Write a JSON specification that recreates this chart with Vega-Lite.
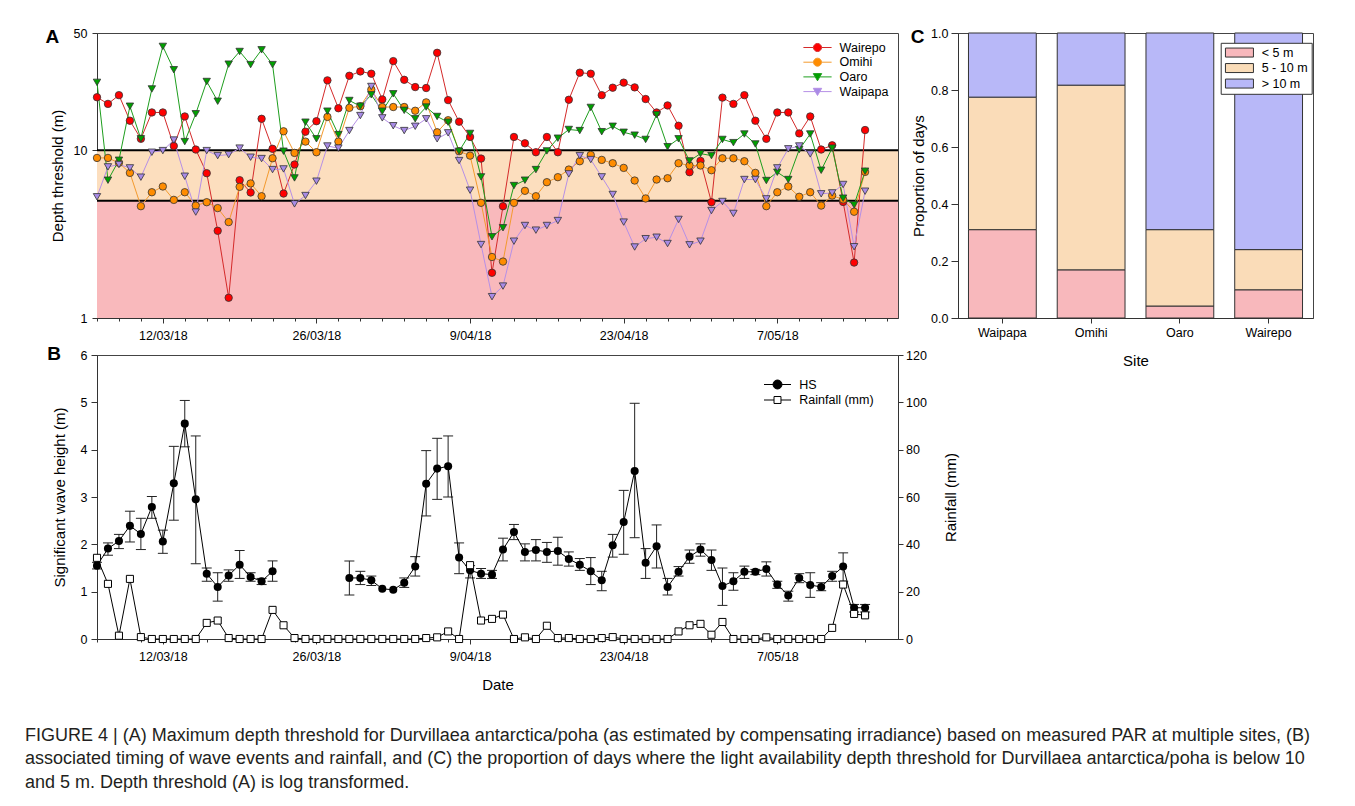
{
  "$schema": "https://vega.github.io/schema/vega-lite/v6.json",
  "background": "white",
  "padding": {"left": 25, "top": 26, "right": 5, "bottom": 5},
  "config": {
    "font": "Liberation Sans",
    "view": {"stroke": "#444", "strokeWidth": 1},
    "axis": {"labelFont": "Liberation Sans", "labelFontSize": 12.5, "labelColor": "#000", "titleFont": "Liberation Sans", "titleFontSize": 15, "titleFontWeight": "normal", "titleColor": "#000", "domainColor": "#333", "tickColor": "#333", "grid": false, "labelOverlap": false, "labelFlush": false},
    "legend": {"labelFont": "Liberation Sans", "labelFontSize": 12.5, "labelColor": "#000", "padding": 0},
    "title": {"font": "Liberation Sans", "color": "#000"}
  },
  "datasets": {
    "days": [
      {"date": "2018-03-06", "Wairepo": 20.7, "Omihi": 9.0, "Oaro": 25.4, "Waipapa": 5.28, "hs": 1.55, "hs_lo": 1.48, "hs_hi": 1.62, "rain": 34.3},
      {"date": "2018-03-07", "Wairepo": 18.9, "Omihi": 9.0, "Oaro": 6.63, "Waipapa": 7.96, "hs": 1.91, "hs_lo": 1.77, "hs_hi": 2.03, "rain": 23.3},
      {"date": "2018-03-08", "Wairepo": 21.3, "Omihi": 8.41, "Oaro": 8.72, "Waipapa": 8.22, "hs": 2.07, "hs_lo": 1.91, "hs_hi": 2.21, "rain": 1.4},
      {"date": "2018-03-09", "Wairepo": 15.0, "Omihi": 7.33, "Oaro": 18.3, "Waipapa": 7.85, "hs": 2.39, "hs_lo": 2.05, "hs_hi": 2.70, "rain": 25.4},
      {"date": "2018-03-10", "Wairepo": 11.7, "Omihi": 4.64, "Oaro": 11.7, "Waipapa": 6.91, "hs": 2.22, "hs_lo": 1.89, "hs_hi": 2.55, "rain": 0.8},
      {"date": "2018-03-11", "Wairepo": 16.8, "Omihi": 5.62, "Oaro": 23.2, "Waipapa": 9.73, "hs": 2.79, "hs_lo": 2.55, "hs_hi": 3.01, "rain": 0},
      {"date": "2018-03-12", "Wairepo": 16.8, "Omihi": 6.08, "Oaro": 41.6, "Waipapa": 9.95, "hs": 2.06, "hs_lo": 1.81, "hs_hi": 2.30, "rain": 0},
      {"date": "2018-03-13", "Wairepo": 10.6, "Omihi": 5.06, "Oaro": 30.2, "Waipapa": 11.5, "hs": 3.29, "hs_lo": 2.51, "hs_hi": 4.07, "rain": 0},
      {"date": "2018-03-14", "Wairepo": 15.9, "Omihi": 5.62, "Oaro": 11.26, "Waipapa": 7.0, "hs": 4.55, "hs_lo": 4.06, "hs_hi": 5.04, "rain": 0},
      {"date": "2018-03-15", "Wairepo": 10.1, "Omihi": 4.68, "Oaro": 16.5, "Waipapa": 4.28, "hs": 2.95, "hs_lo": 1.59, "hs_hi": 4.29, "rain": 0},
      {"date": "2018-03-16", "Wairepo": 7.3, "Omihi": 4.90, "Oaro": 25.7, "Waipapa": 9.95, "hs": 1.38, "hs_lo": 1.22, "hs_hi": 1.50, "rain": 6.8},
      {"date": "2018-03-17", "Wairepo": 3.31, "Omihi": 4.52, "Oaro": 19.6, "Waipapa": 9.29, "hs": 1.10, "hs_lo": 0.80, "hs_hi": 1.40, "rain": 7.8},
      {"date": "2018-03-18", "Wairepo": 1.32, "Omihi": 3.73, "Oaro": 32.6, "Waipapa": 9.42, "hs": 1.34, "hs_lo": 1.22, "hs_hi": 1.46, "rain": 0.4},
      {"date": "2018-03-19", "Wairepo": 6.63, "Omihi": 6.05, "Oaro": 38.8, "Waipapa": 10.3, "hs": 1.57, "hs_lo": 1.28, "hs_hi": 1.87, "rain": 0},
      {"date": "2018-03-20", "Wairepo": 5.6, "Omihi": 6.34, "Oaro": 32.4, "Waipapa": 9.09, "hs": 1.31, "hs_lo": 1.22, "hs_hi": 1.40, "rain": 0},
      {"date": "2018-03-21", "Wairepo": 15.4, "Omihi": 5.32, "Oaro": 39.7, "Waipapa": 8.92, "hs": 1.22, "hs_lo": 1.15, "hs_hi": 1.28, "rain": 0},
      {"date": "2018-03-22", "Wairepo": 10.2, "Omihi": 8.96, "Oaro": 32.4, "Waipapa": 7.67, "hs": 1.43, "hs_lo": 1.22, "hs_hi": 1.65, "rain": 12.3},
      {"date": "2018-03-23", "Wairepo": 5.52, "Omihi": 12.97, "Oaro": 9.87, "Waipapa": 7.74, "hs": null, "hs_lo": null, "hs_hi": null, "rain": 5.8},
      {"date": "2018-03-24", "Wairepo": 8.22, "Omihi": 9.64, "Oaro": 6.84, "Waipapa": 4.79, "hs": null, "hs_lo": null, "hs_hi": null, "rain": 0.4},
      {"date": "2018-03-25", "Wairepo": 12.9, "Omihi": 11.26, "Oaro": 14.7, "Waipapa": 5.37, "hs": null, "hs_lo": null, "hs_hi": null, "rain": 0},
      {"date": "2018-03-26", "Wairepo": 14.9, "Omihi": 9.73, "Oaro": 11.7, "Waipapa": 6.54, "hs": null, "hs_lo": null, "hs_hi": null, "rain": 0},
      {"date": "2018-03-27", "Wairepo": 26.1, "Omihi": 15.8, "Oaro": 17.1, "Waipapa": 10.6, "hs": null, "hs_lo": null, "hs_hi": null, "rain": 0},
      {"date": "2018-03-28", "Wairepo": 17.8, "Omihi": 11.26, "Oaro": 12.4, "Waipapa": 10.3, "hs": null, "hs_lo": null, "hs_hi": null, "rain": 0},
      {"date": "2018-03-29", "Wairepo": 27.8, "Omihi": 17.9, "Oaro": 19.8, "Waipapa": 13.1, "hs": 1.29, "hs_lo": 0.93, "hs_hi": 1.65, "rain": 0},
      {"date": "2018-03-30", "Wairepo": 29.5, "Omihi": 18.3, "Oaro": 18.3, "Waipapa": 16.1, "hs": 1.29, "hs_lo": 1.15, "hs_hi": 1.43, "rain": 0},
      {"date": "2018-03-31", "Wairepo": 28.6, "Omihi": 23.0, "Oaro": 21.4, "Waipapa": 24.0, "hs": 1.24, "hs_lo": 1.13, "hs_hi": 1.33, "rain": 0},
      {"date": "2018-04-01", "Wairepo": 20.1, "Omihi": 18.1, "Oaro": 17.1, "Waipapa": 15.6, "hs": 1.06, "hs_lo": null, "hs_hi": null, "rain": 0},
      {"date": "2018-04-02", "Wairepo": 34.0, "Omihi": 18.1, "Oaro": 21.7, "Waipapa": 14.0, "hs": 1.04, "hs_lo": null, "hs_hi": null, "rain": 0},
      {"date": "2018-04-03", "Wairepo": 26.3, "Omihi": 18.1, "Oaro": 17.3, "Waipapa": 13.1, "hs": 1.19, "hs_lo": 1.09, "hs_hi": 1.29, "rain": 0},
      {"date": "2018-04-04", "Wairepo": 23.8, "Omihi": 17.2, "Oaro": 15.4, "Waipapa": 13.9, "hs": 1.53, "hs_lo": 1.33, "hs_hi": 1.74, "rain": 0},
      {"date": "2018-04-05", "Wairepo": 23.5, "Omihi": 19.3, "Oaro": 18.1, "Waipapa": 15.4, "hs": 3.28, "hs_lo": 2.60, "hs_hi": 3.98, "rain": 0.4},
      {"date": "2018-04-06", "Wairepo": 38.1, "Omihi": 12.8, "Oaro": 15.9, "Waipapa": 11.7, "hs": 3.60, "hs_lo": 2.95, "hs_hi": 4.24, "rain": 0.7},
      {"date": "2018-04-07", "Wairepo": 19.9, "Omihi": 15.1, "Oaro": 14.7, "Waipapa": 12.7, "hs": 3.65, "hs_lo": 3.00, "hs_hi": 4.29, "rain": 3.2},
      {"date": "2018-04-08", "Wairepo": 14.8, "Omihi": 9.87, "Oaro": 9.87, "Waipapa": 8.68, "hs": 1.72, "hs_lo": 1.38, "hs_hi": 2.03, "rain": 0},
      {"date": "2018-04-09", "Wairepo": 12.0, "Omihi": 9.29, "Oaro": 12.6, "Waipapa": 5.78, "hs": 1.45, "hs_lo": 1.29, "hs_hi": 1.55, "rain": 31.2},
      {"date": "2018-04-10", "Wairepo": 8.92, "Omihi": 4.86, "Oaro": 6.94, "Waipapa": 2.74, "hs": 1.38, "hs_lo": 1.28, "hs_hi": 1.49, "rain": 7.8},
      {"date": "2018-04-11", "Wairepo": 1.86, "Omihi": 2.31, "Oaro": 3.05, "Waipapa": 1.34, "hs": 1.36, "hs_lo": 1.28, "hs_hi": 1.45, "rain": 8.5},
      {"date": "2018-04-12", "Wairepo": 4.64, "Omihi": 2.17, "Oaro": 3.45, "Waipapa": 1.55, "hs": 1.89, "hs_lo": 1.65, "hs_hi": 2.13, "rain": 10.3},
      {"date": "2018-04-13", "Wairepo": 12.0, "Omihi": 4.86, "Oaro": 6.16, "Waipapa": 2.87, "hs": 2.26, "hs_lo": 2.10, "hs_hi": 2.42, "rain": 0},
      {"date": "2018-04-14", "Wairepo": 11.0, "Omihi": 5.73, "Oaro": 6.63, "Waipapa": 3.56, "hs": 1.84, "hs_lo": 1.65, "hs_hi": 2.01, "rain": 0.7},
      {"date": "2018-04-15", "Wairepo": 9.73, "Omihi": 5.32, "Oaro": 7.67, "Waipapa": 3.34, "hs": 1.88, "hs_lo": 1.65, "hs_hi": 2.10, "rain": 0},
      {"date": "2018-04-16", "Wairepo": 12.0, "Omihi": 6.45, "Oaro": 9.91, "Waipapa": 3.56, "hs": 1.84, "hs_lo": 1.62, "hs_hi": 2.04, "rain": 5.6},
      {"date": "2018-04-17", "Wairepo": 9.73, "Omihi": 6.91, "Oaro": 11.8, "Waipapa": 3.81, "hs": 1.86, "hs_lo": 1.56, "hs_hi": 2.15, "rain": 0.4},
      {"date": "2018-04-18", "Wairepo": 20.0, "Omihi": 7.67, "Oaro": 13.3, "Waipapa": 7.23, "hs": 1.69, "hs_lo": 1.54, "hs_hi": 1.84, "rain": 0.4},
      {"date": "2018-04-19", "Wairepo": 29.0, "Omihi": 8.60, "Oaro": 13.1, "Waipapa": 9.29, "hs": 1.57, "hs_lo": 1.45, "hs_hi": 1.70, "rain": 0},
      {"date": "2018-04-20", "Wairepo": 28.6, "Omihi": 9.38, "Oaro": 18.0, "Waipapa": 8.80, "hs": 1.43, "hs_lo": 1.15, "hs_hi": 1.72, "rain": 0},
      {"date": "2018-04-21", "Wairepo": 21.3, "Omihi": 8.76, "Oaro": 12.9, "Waipapa": 6.94, "hs": 1.24, "hs_lo": 1.02, "hs_hi": 1.43, "rain": 0.4},
      {"date": "2018-04-22", "Wairepo": 23.6, "Omihi": 8.37, "Oaro": 13.9, "Waipapa": 5.45, "hs": 1.98, "hs_lo": 1.73, "hs_hi": 2.21, "rain": 0.8},
      {"date": "2018-04-23", "Wairepo": 25.3, "Omihi": 7.85, "Oaro": 12.8, "Waipapa": 3.73, "hs": 2.47, "hs_lo": 1.79, "hs_hi": 3.14, "rain": 0},
      {"date": "2018-04-24", "Wairepo": 23.7, "Omihi": 6.60, "Oaro": 12.3, "Waipapa": 2.65, "hs": 3.55, "hs_lo": 2.14, "hs_hi": 4.98, "rain": 0},
      {"date": "2018-04-25", "Wairepo": 20.2, "Omihi": 5.16, "Oaro": 11.6, "Waipapa": 2.97, "hs": 1.61, "hs_lo": 1.28, "hs_hi": 1.91, "rain": 0},
      {"date": "2018-04-26", "Wairepo": 16.8, "Omihi": 6.69, "Oaro": 16.3, "Waipapa": 3.03, "hs": 1.96, "hs_lo": 1.50, "hs_hi": 2.41, "rain": 0},
      {"date": "2018-04-27", "Wairepo": 18.5, "Omihi": 6.81, "Oaro": 10.5, "Waipapa": 2.78, "hs": 1.10, "hs_lo": 0.93, "hs_hi": 1.28, "rain": 0},
      {"date": "2018-04-28", "Wairepo": 14.0, "Omihi": 8.37, "Oaro": 11.7, "Waipapa": 3.87, "hs": 1.42, "hs_lo": 1.33, "hs_hi": 1.53, "rain": 3.2},
      {"date": "2018-04-29", "Wairepo": 7.40, "Omihi": 8.11, "Oaro": 8.64, "Waipapa": 2.73, "hs": 1.74, "hs_lo": 1.60, "hs_hi": 1.88, "rain": 5.8},
      {"date": "2018-04-30", "Wairepo": 8.64, "Omihi": 8.11, "Oaro": 9.55, "Waipapa": 2.87, "hs": 1.89, "hs_lo": 1.75, "hs_hi": 2.01, "rain": 6.4},
      {"date": "2018-05-01", "Wairepo": 4.90, "Omihi": 7.60, "Oaro": 9.29, "Waipapa": 4.37, "hs": 1.67, "hs_lo": 1.45, "hs_hi": 1.88, "rain": 1.8},
      {"date": "2018-05-02", "Wairepo": 20.6, "Omihi": 8.96, "Oaro": 11.6, "Waipapa": 4.95, "hs": 1.12, "hs_lo": 0.71, "hs_hi": 1.50, "rain": 7.2},
      {"date": "2018-05-03", "Wairepo": 18.9, "Omihi": 8.96, "Oaro": 11.1, "Waipapa": 4.20, "hs": 1.22, "hs_lo": 1.03, "hs_hi": 1.40, "rain": 0},
      {"date": "2018-05-04", "Wairepo": 21.3, "Omihi": 8.60, "Oaro": 12.5, "Waipapa": 6.69, "hs": 1.42, "hs_lo": 1.28, "hs_hi": 1.54, "rain": 0},
      {"date": "2018-05-05", "Wairepo": 15.0, "Omihi": 7.33, "Oaro": 10.9, "Waipapa": 6.69, "hs": 1.42, "hs_lo": 1.36, "hs_hi": 1.47, "rain": 0},
      {"date": "2018-05-06", "Wairepo": 11.7, "Omihi": 4.64, "Oaro": 6.60, "Waipapa": 5.13, "hs": 1.48, "hs_lo": 1.33, "hs_hi": 1.63, "rain": 0.7},
      {"date": "2018-05-07", "Wairepo": 16.8, "Omihi": 5.62, "Oaro": 7.40, "Waipapa": 7.85, "hs": 1.15, "hs_lo": 1.07, "hs_hi": 1.22, "rain": 0},
      {"date": "2018-05-08", "Wairepo": 16.8, "Omihi": 6.08, "Oaro": 6.69, "Waipapa": 10.2, "hs": 0.92, "hs_lo": 0.80, "hs_hi": 1.01, "rain": 0},
      {"date": "2018-05-09", "Wairepo": 12.6, "Omihi": 5.28, "Oaro": 10.1, "Waipapa": 10.6, "hs": 1.29, "hs_lo": 1.19, "hs_hi": 1.38, "rain": 0},
      {"date": "2018-05-10", "Wairepo": 15.9, "Omihi": 5.62, "Oaro": 12.5, "Waipapa": 9.51, "hs": 1.14, "hs_lo": 0.88, "hs_hi": 1.40, "rain": 0},
      {"date": "2018-05-11", "Wairepo": 10.1, "Omihi": 4.68, "Oaro": 7.60, "Waipapa": 5.50, "hs": 1.10, "hs_lo": 1.02, "hs_hi": 1.19, "rain": 0},
      {"date": "2018-05-12", "Wairepo": 10.7, "Omihi": 5.37, "Oaro": 10.3, "Waipapa": 5.57, "hs": 1.33, "hs_lo": 1.22, "hs_hi": 1.43, "rain": 4.7},
      {"date": "2018-05-13", "Wairepo": 4.92, "Omihi": 5.09, "Oaro": 5.18, "Waipapa": 6.25, "hs": 1.53, "hs_lo": 1.22, "hs_hi": 1.82, "rain": 23.0},
      {"date": "2018-05-14", "Wairepo": 2.14, "Omihi": 4.30, "Oaro": 4.73, "Waipapa": 2.66, "hs": 0.66, "hs_lo": 0.57, "hs_hi": 0.73, "rain": 10.6},
      {"date": "2018-05-15", "Wairepo": 13.2, "Omihi": 7.43, "Oaro": 7.50, "Waipapa": 5.70, "hs": 0.66, "hs_lo": 0.57, "hs_hi": 0.73, "rain": 10.0}
    ],
    "props": [
      {"site": "Waipapa", "zone": "< 5 m", "rank": 1, "prop": 0.310},
      {"site": "Waipapa", "zone": "5 - 10 m", "rank": 2, "prop": 0.465},
      {"site": "Waipapa", "zone": "> 10 m", "rank": 3, "prop": 0.225},
      {"site": "Omihi", "zone": "< 5 m", "rank": 1, "prop": 0.169},
      {"site": "Omihi", "zone": "5 - 10 m", "rank": 2, "prop": 0.648},
      {"site": "Omihi", "zone": "> 10 m", "rank": 3, "prop": 0.183},
      {"site": "Oaro", "zone": "< 5 m", "rank": 1, "prop": 0.042},
      {"site": "Oaro", "zone": "5 - 10 m", "rank": 2, "prop": 0.268},
      {"site": "Oaro", "zone": "> 10 m", "rank": 3, "prop": 0.690},
      {"site": "Wairepo", "zone": "< 5 m", "rank": 1, "prop": 0.099},
      {"site": "Wairepo", "zone": "5 - 10 m", "rank": 2, "prop": 0.141},
      {"site": "Wairepo", "zone": "> 10 m", "rank": 3, "prop": 0.760}
    ]
  },
  "title": {
    "text": [
      "FIGURE 4 | (A) Maximum depth threshold for Durvillaea antarctica/poha (as estimated by compensating irradiance) based on measured PAR at multiple sites, (B)",
      "associated timing of wave events and rainfall, and (C) the proportion of days where the light availability depth threshold for Durvillaea antarctica/poha is below 10",
      "and 5 m. Depth threshold (A) is log transformed."
    ],
    "orient": "bottom", "anchor": "start", "frame": "bounds", "align": "left",
    "fontSize": 18, "fontWeight": "normal", "font": "Liberation Sans", "color": "#231F20",
    "lineHeight": 23.3, "offset": 34.5, "dx": -20
  },
  "concat": [
    {
      "width": 801, "height": 285,
      "title": {"text": "A", "orient": "top", "anchor": "start", "frame": "group", "offset": 0, "dx": -51.5, "dy": 34.6, "baseline": "alphabetic", "fontSize": 19, "fontWeight": "bold", "color": "#000"},
      "layer": [
        {
          "data": {"values": [{"low": 1, "high": 5}]},
          "mark": {"type": "rect", "fill": "#F9B9BC"},
          "encoding": {
            "y": {"field": "low", "type": "quantitative", "scale": {"type": "log", "domain": [1, 50]}},
            "y2": {"field": "high"}
          }
        },
        {
          "data": {"values": [{"low": 5, "high": 10}]},
          "mark": {"type": "rect", "fill": "#FCDEBE"},
          "encoding": {
            "y": {"field": "low", "type": "quantitative", "scale": {"type": "log", "domain": [1, 50]}},
            "y2": {"field": "high"}
          }
        },
        {
          "data": {"values": [{"limit": 5}, {"limit": 10}]},
          "mark": {"type": "rule", "color": "#000", "strokeWidth": 2},
          "encoding": {
            "y": {"field": "limit", "type": "quantitative", "scale": {"type": "log", "domain": [1, 50]}}
          }
        },
        {
          "data": {"name": "days"},
          "transform": [{"fold": ["Wairepo", "Omihi", "Oaro", "Waipapa"], "as": ["site", "depth"]}],
          "mark": {"type": "line", "strokeWidth": 1},
          "encoding": {
            "x": {"field": "date", "type": "temporal",
              "scale": {"type": "utc", "domain": [{"year": 2018, "month": 3, "date": 6, "utc": true}, {"year": 2018, "month": 5, "date": 18, "utc": true}]},
              "axis": {"orient": "bottom", "title": null, "tickSize": 5, "labelPadding": 6, "labelOverlap": false, "labelFlush": false,
                "labelExpr": "utcFormat(datum.value, '%-d/%m/%y')",
                "values": [{"year": 2018, "month": 3, "date": 12, "utc": true}, {"year": 2018, "month": 3, "date": 26, "utc": true}, {"year": 2018, "month": 4, "date": 9, "utc": true}, {"year": 2018, "month": 4, "date": 23, "utc": true}, {"year": 2018, "month": 5, "date": 7, "utc": true}]}},
            "y": {"field": "depth", "type": "quantitative", "scale": {"type": "log", "domain": [1, 50]},
              "axis": {"values": [1, 10, 50], "format": "d", "title": "Depth threshold (m)", "tickSize": 5, "labelPadding": 5, "titleX": -40, "titleBaseline": "middle"}},
            "color": {"field": "site", "type": "nominal",
              "scale": {"domain": ["Wairepo", "Omihi", "Oaro", "Waipapa"], "range": ["#D42A2A", "#F39A2E", "#1E9E1E", "#B690E6"]},
              "legend": {"title": null, "orient": "none", "legendX": 714, "legendY": 8, "direction": "vertical", "symbolSize": 144, "labelOffset": 15.6, "rowPadding": 1.7, "labelFontSize": 12.5,
                "encode": {"symbols": {"update": {
                  "shape": {"signal": "(datum.value === 'Wairepo' || datum.value === 'Omihi') ? 'M-2.35,0H-0.67M0.67,0H2.35M0.67,0A0.67,0.67,0,1,1,-0.67,0A0.67,0.67,0,1,1,0.67,0Z' : 'M-2.35,0H-0.38M0.38,0H2.35M-0.7,-0.55L0.7,-0.55L0,0.65Z'"},
                  "fill": {"signal": "datum.value === 'Wairepo' ? '#FF0000' : datum.value === 'Omihi' ? '#FF8C00' : datum.value === 'Oaro' ? '#00A000' : '#A88BE6'"},
                  "stroke": {"signal": "datum.value === 'Wairepo' ? '#D42A2A' : datum.value === 'Omihi' ? '#F39A2E' : datum.value === 'Oaro' ? '#1E9E1E' : '#B690E6'"},
                  "strokeWidth": {"value": 1},
                  "opacity": {"value": 1}
                }}}}
            }
          }
        },
        {
          "data": {"name": "days"},
          "transform": [{"fold": ["Wairepo", "Omihi", "Oaro", "Waipapa"], "as": ["station", "depth"]}],
          "mark": {"type": "point", "filled": true, "stroke": "#333", "strokeWidth": 0.8, "size": 55, "opacity": 1},
          "encoding": {
            "x": {"field": "date", "type": "temporal",
              "scale": {"type": "utc", "domain": [{"year": 2018, "month": 3, "date": 6, "utc": true}, {"year": 2018, "month": 5, "date": 18, "utc": true}]},
              "axis": {"orient": "bottom", "title": null, "labels": false, "domain": false, "tickSize": 3,
                "values": [
                  {"year": 2018, "month": 3, "date": 6, "utc": true}, {"year": 2018, "month": 3, "date": 8, "utc": true}, {"year": 2018, "month": 3, "date": 10, "utc": true}, {"year": 2018, "month": 3, "date": 14, "utc": true}, {"year": 2018, "month": 3, "date": 16, "utc": true}, {"year": 2018, "month": 3, "date": 18, "utc": true}, {"year": 2018, "month": 3, "date": 20, "utc": true}, {"year": 2018, "month": 3, "date": 22, "utc": true}, {"year": 2018, "month": 3, "date": 24, "utc": true}, {"year": 2018, "month": 3, "date": 28, "utc": true}, {"year": 2018, "month": 3, "date": 30, "utc": true},
                  {"year": 2018, "month": 4, "date": 1, "utc": true}, {"year": 2018, "month": 4, "date": 3, "utc": true}, {"year": 2018, "month": 4, "date": 5, "utc": true}, {"year": 2018, "month": 4, "date": 7, "utc": true}, {"year": 2018, "month": 4, "date": 11, "utc": true}, {"year": 2018, "month": 4, "date": 13, "utc": true}, {"year": 2018, "month": 4, "date": 15, "utc": true}, {"year": 2018, "month": 4, "date": 17, "utc": true}, {"year": 2018, "month": 4, "date": 19, "utc": true}, {"year": 2018, "month": 4, "date": 21, "utc": true}, {"year": 2018, "month": 4, "date": 25, "utc": true}, {"year": 2018, "month": 4, "date": 27, "utc": true}, {"year": 2018, "month": 4, "date": 29, "utc": true},
                  {"year": 2018, "month": 5, "date": 1, "utc": true}, {"year": 2018, "month": 5, "date": 3, "utc": true}, {"year": 2018, "month": 5, "date": 5, "utc": true}, {"year": 2018, "month": 5, "date": 9, "utc": true}, {"year": 2018, "month": 5, "date": 11, "utc": true}, {"year": 2018, "month": 5, "date": 13, "utc": true}, {"year": 2018, "month": 5, "date": 15, "utc": true}, {"year": 2018, "month": 5, "date": 17, "utc": true}
                ]}},
            "y": {"field": "depth", "type": "quantitative", "scale": {"type": "log", "domain": [1, 50]}},
            "fill": {"field": "station", "type": "nominal", "scale": {"domain": ["Waipapa", "Oaro", "Omihi", "Wairepo"], "range": ["#A88BE6", "#00A000", "#FF8C00", "#FF0000"]}, "legend": null},
            "shape": {"field": "station", "type": "nominal", "scale": {"domain": ["Waipapa", "Oaro", "Omihi", "Wairepo"], "range": ["triangle-down", "triangle-down", "circle", "circle"]}, "legend": null}
          }
        }
      ],
      "resolve": {"axis": {"x": "independent"}}
    },
    {
      "width": 355, "height": 285,
      "title": {"text": "C", "orient": "top", "anchor": "start", "frame": "group", "offset": 0, "dx": -47.3, "dy": 34.6, "baseline": "alphabetic", "fontSize": 19, "fontWeight": "bold", "color": "#000"},
      "data": {"name": "props"},
      "mark": {"type": "bar", "stroke": "#333", "strokeWidth": 1},
      "encoding": {
        "x": {"field": "site", "type": "nominal", "sort": ["Waipapa", "Omihi", "Oaro", "Wairepo"],
          "scale": {"paddingInner": 0.236, "paddingOuter": 0.118},
          "axis": {"title": "Site", "labelAngle": 0, "tickSize": 5, "labelPadding": 3, "titleY": 42, "titleBaseline": "middle"}},
        "y": {"field": "prop", "type": "quantitative", "stack": "zero", "scale": {"domain": [0, 1]},
          "axis": {"values": [0, 0.2, 0.4, 0.6, 0.8, 1.0], "format": ".1f", "title": "Proportion of days", "tickSize": 7, "labelPadding": 3, "titleX": -39.3, "titleBaseline": "middle"}},
        "color": {"field": "zone", "type": "nominal",
          "scale": {"domain": ["< 5 m", "5 - 10 m", "> 10 m"], "range": ["#F8B8BC", "#FADCB8", "#B8B8F8"]},
          "legend": {"title": null, "orient": "none", "legendX": 262.7, "legendY": 9.8, "direction": "vertical", "padding": 3.5, "strokeColor": "#333", "fillColor": "#FFFFFF",
            "symbolType": "M-1,-0.9H4.6V0.9H-1Z", "symbolSize": 100, "symbolStrokeColor": "#333", "symbolStrokeWidth": 1, "labelOffset": 25, "rowPadding": 1.5, "labelFontSize": 12.5}},
        "order": {"field": "rank", "type": "quantitative"}
      }
    },
    {
      "width": 801, "height": 284,
      "title": {"text": "B", "orient": "top", "anchor": "start", "frame": "group", "offset": 0, "dx": -49.8, "dy": 29.8, "baseline": "alphabetic", "fontSize": 19, "fontWeight": "bold", "color": "#000"},
      "data": {"name": "days"},
      "layer": [
        {
          "layer": [
            {
              "mark": {"type": "rule", "color": "#222", "strokeWidth": 1},
              "encoding": {
                "x": {"field": "date", "type": "temporal", "scale": {"type": "utc", "domain": [{"year": 2018, "month": 3, "date": 6, "utc": true}, {"year": 2018, "month": 5, "date": 18, "utc": true}]}},
                "y": {"field": "hs_lo", "type": "quantitative", "scale": {"domain": [0, 6]}},
                "y2": {"field": "hs_hi"}
              }
            },
            {
              "mark": {"type": "tick", "orient": "horizontal", "size": 10, "thickness": 1, "color": "#222", "opacity": 1},
              "encoding": {
                "x": {"field": "date", "type": "temporal", "scale": {"type": "utc", "domain": [{"year": 2018, "month": 3, "date": 6, "utc": true}, {"year": 2018, "month": 5, "date": 18, "utc": true}]}},
                "y": {"field": "hs_lo", "type": "quantitative", "scale": {"domain": [0, 6]}}
              }
            },
            {
              "mark": {"type": "tick", "orient": "horizontal", "size": 10, "thickness": 1, "color": "#222", "opacity": 1},
              "encoding": {
                "x": {"field": "date", "type": "temporal", "scale": {"type": "utc", "domain": [{"year": 2018, "month": 3, "date": 6, "utc": true}, {"year": 2018, "month": 5, "date": 18, "utc": true}]}},
                "y": {"field": "hs_hi", "type": "quantitative", "scale": {"domain": [0, 6]}}
              }
            },
            {
              "mark": {"type": "line", "strokeWidth": 1, "invalid": "break-paths-show-domains"},
              "encoding": {
                "x": {"field": "date", "type": "temporal",
                  "scale": {"type": "utc", "domain": [{"year": 2018, "month": 3, "date": 6, "utc": true}, {"year": 2018, "month": 5, "date": 18, "utc": true}]},
                  "axis": {"orient": "bottom", "title": "Date", "tickSize": 5, "labelPadding": 6, "labelOverlap": false, "labelFlush": false, "titleY": 45, "titleBaseline": "middle",
                    "labelExpr": "utcFormat(datum.value, '%-d/%m/%y')",
                    "values": [{"year": 2018, "month": 3, "date": 12, "utc": true}, {"year": 2018, "month": 3, "date": 26, "utc": true}, {"year": 2018, "month": 4, "date": 9, "utc": true}, {"year": 2018, "month": 4, "date": 23, "utc": true}, {"year": 2018, "month": 5, "date": 7, "utc": true}]}},
                "y": {"field": "hs", "type": "quantitative", "scale": {"domain": [0, 6]},
                  "axis": {"values": [0, 1, 2, 3, 4, 5, 6], "format": "d", "title": "Significant wave height (m)", "tickSize": 6, "labelPadding": 4, "titleX": -38, "titleBaseline": "middle"}},
                "color": {"datum": "HS", "type": "nominal",
                  "scale": {"domain": ["HS", "Rainfall (mm)"], "range": ["#000000", "#000000"]},
                  "legend": {"title": null, "orient": "none", "legendX": 674, "legendY": 23, "direction": "vertical", "symbolSize": 144, "labelOffset": 15.3, "rowPadding": 2.5, "labelFontSize": 12.5,
                    "encode": {"symbols": {"update": {
                      "shape": {"signal": "datum.value === 'HS' ? 'M-2.25,0H-0.75M0.75,0H2.25M0.75,0A0.75,0.75,0,1,1,-0.75,0A0.75,0.75,0,1,1,0.75,0Z' : 'M-2.25,0H-0.58M0.58,0H2.25M-0.58,-0.58H0.58V0.58H-0.58Z'"},
                      "fill": {"signal": "datum.value === 'HS' ? '#000000' : '#FFFFFF'"},
                      "stroke": {"value": "#000000"},
                      "strokeWidth": {"value": 1},
                      "opacity": {"value": 1}
                    }}}}
                }
              }
            },
            {
              "mark": {"type": "point", "shape": "circle", "filled": true, "color": "#000", "size": 65, "opacity": 1},
              "encoding": {
                "x": {"field": "date", "type": "temporal", "scale": {"type": "utc", "domain": [{"year": 2018, "month": 3, "date": 6, "utc": true}, {"year": 2018, "month": 5, "date": 18, "utc": true}]}},
                "y": {"field": "hs", "type": "quantitative", "scale": {"domain": [0, 6]}}
              }
            }
          ]
        },
        {
          "layer": [
            {
              "mark": {"type": "line", "strokeWidth": 1},
              "encoding": {
                "x": {"field": "date", "type": "temporal",
                  "scale": {"type": "utc", "domain": [{"year": 2018, "month": 3, "date": 6, "utc": true}, {"year": 2018, "month": 5, "date": 18, "utc": true}]},
                  "axis": {"orient": "bottom", "title": null, "labels": false, "domain": false, "tickSize": 3,
                    "values": [
                      {"year": 2018, "month": 3, "date": 6, "utc": true}, {"year": 2018, "month": 3, "date": 8, "utc": true}, {"year": 2018, "month": 3, "date": 10, "utc": true}, {"year": 2018, "month": 3, "date": 14, "utc": true}, {"year": 2018, "month": 3, "date": 16, "utc": true}, {"year": 2018, "month": 3, "date": 18, "utc": true}, {"year": 2018, "month": 3, "date": 20, "utc": true}, {"year": 2018, "month": 3, "date": 22, "utc": true}, {"year": 2018, "month": 3, "date": 24, "utc": true}, {"year": 2018, "month": 3, "date": 28, "utc": true}, {"year": 2018, "month": 3, "date": 30, "utc": true},
                      {"year": 2018, "month": 4, "date": 1, "utc": true}, {"year": 2018, "month": 4, "date": 3, "utc": true}, {"year": 2018, "month": 4, "date": 5, "utc": true}, {"year": 2018, "month": 4, "date": 7, "utc": true}, {"year": 2018, "month": 4, "date": 11, "utc": true}, {"year": 2018, "month": 4, "date": 13, "utc": true}, {"year": 2018, "month": 4, "date": 15, "utc": true}, {"year": 2018, "month": 4, "date": 17, "utc": true}, {"year": 2018, "month": 4, "date": 19, "utc": true}, {"year": 2018, "month": 4, "date": 21, "utc": true}, {"year": 2018, "month": 4, "date": 25, "utc": true}, {"year": 2018, "month": 4, "date": 27, "utc": true}, {"year": 2018, "month": 4, "date": 29, "utc": true},
                      {"year": 2018, "month": 5, "date": 1, "utc": true}, {"year": 2018, "month": 5, "date": 3, "utc": true}, {"year": 2018, "month": 5, "date": 5, "utc": true}, {"year": 2018, "month": 5, "date": 9, "utc": true}, {"year": 2018, "month": 5, "date": 11, "utc": true}, {"year": 2018, "month": 5, "date": 13, "utc": true}, {"year": 2018, "month": 5, "date": 15, "utc": true}, {"year": 2018, "month": 5, "date": 17, "utc": true}
                    ]}},
                "y": {"field": "rain", "type": "quantitative", "scale": {"domain": [0, 120]},
                  "axis": {"orient": "right", "values": [0, 20, 40, 60, 80, 100, 120], "title": "Rainfall (mm)", "tickSize": 5, "labelPadding": 2.5, "titleX": 52, "titleBaseline": "middle", "titleAngle": 270}},
                "color": {"datum": "Rainfall (mm)", "type": "nominal"}
              }
            },
            {
              "mark": {"type": "point", "shape": "square", "filled": true, "fill": "#FFFFFF", "stroke": "#000", "strokeWidth": 1, "size": 50, "opacity": 1},
              "encoding": {
                "x": {"field": "date", "type": "temporal", "scale": {"type": "utc", "domain": [{"year": 2018, "month": 3, "date": 6, "utc": true}, {"year": 2018, "month": 5, "date": 18, "utc": true}]}},
                "y": {"field": "rain", "type": "quantitative", "scale": {"domain": [0, 120]}}
              }
            }
          ]
        }
      ],
      "resolve": {"scale": {"y": "independent"}, "axis": {"x": "independent"}}
    }
  ],
  "columns": 2,
  "spacing": {"row": 37, "column": 60},
  "bounds": "flush",
  "resolve": {"scale": {"color": "independent", "fill": "independent", "shape": "independent"}, "legend": {"color": "independent", "fill": "independent", "shape": "independent"}}
}
